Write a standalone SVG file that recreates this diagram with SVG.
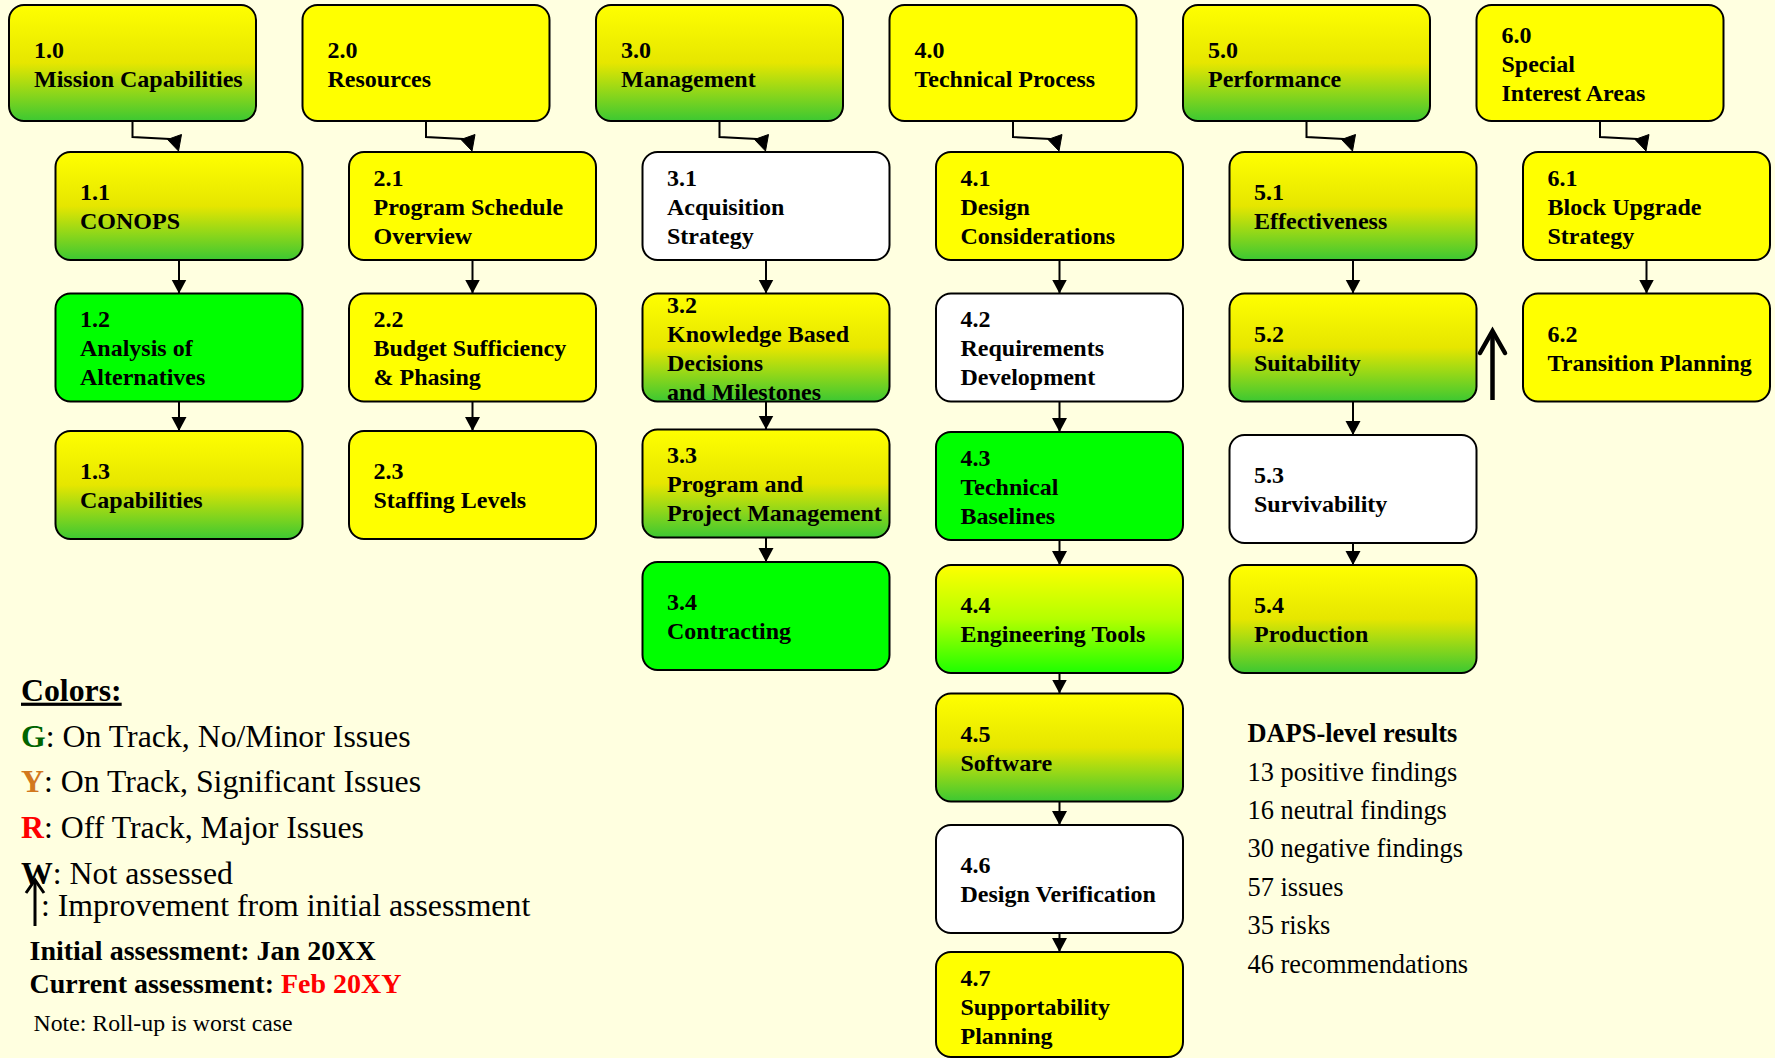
<svg xmlns="http://www.w3.org/2000/svg" width="1775" height="1058" viewBox="0 0 1775 1058">
  <style>
    .bx { stroke: #000; stroke-width: 2; }
    .y { fill: #FFFF00; }
    .g { fill: #00FF00; }
    .w { fill: #FFFFFF; }
    .yg { fill: url(#gradYG); }
    .yl { fill: url(#gradYL); }
    .lbl { font-family: "Liberation Serif", "Times New Roman", serif; font-weight: bold; font-size: 24px; fill: #000; }
    .edge { fill: none; stroke: #000; stroke-width: 2; }
    .head { fill: #000; stroke: #000; stroke-width: 1; stroke-linejoin: miter; }
    .leg { font-family: "Liberation Serif", "Times New Roman", serif; font-size: 31.8px; fill: #000; }
    .legb { font-family: "Liberation Serif", "Times New Roman", serif; font-size: 28px; font-weight: bold; fill: #000; }
    .note { font-family: "Liberation Serif", "Times New Roman", serif; font-size: 23.8px; fill: #000; }
    .res { font-family: "Liberation Serif", "Times New Roman", serif; font-size: 26.4px; fill: #000; }
    .up { fill: none; stroke: #000; stroke-linejoin: miter; }
  </style>
  <defs>
    <!-- yellow fading to green: mixed status -->
    <linearGradient id="gradYG" x1="0" y1="0" x2="0" y2="1">
      <stop offset="0" stop-color="#FFFF00"/>
      <stop offset="0.5" stop-color="#E6E600"/>
      <stop offset="1" stop-color="#3CC832"/>
    </linearGradient>
    <!-- yellow fading to bright green -->
    <linearGradient id="gradYL" x1="0" y1="0" x2="0" y2="1">
      <stop offset="0" stop-color="#FFFF00"/>
      <stop offset="0.5" stop-color="#B4FF00"/>
      <stop offset="1" stop-color="#1EFF00"/>
    </linearGradient>
    <marker id="arr" markerUnits="userSpaceOnUse" markerWidth="16" markerHeight="16" refX="14" refY="7.5" orient="auto">
      <path d="M0,0 L14,7.5 L0,15 z" fill="#000"/>
    </marker>
  </defs>

  <rect width="1775" height="1058" fill="#FFFFE0"/>

  <!-- connectors -->
  <g id="connectors">
    <!-- parent to first child elbows -->
    <path class="edge" d="M132.5,121 V137 L170,139"/>
    <polygon class="head" points="167.5,139.5 181.5,134.5 178.5,151"/>
    <path class="edge" d="M426,121 V137 L463.5,139"/>
    <polygon class="head" points="461,139.5 475,134.5 472,151"/>
    <path class="edge" d="M719.5,121 V137 L757,139"/>
    <polygon class="head" points="754.5,139.5 768.5,134.5 765.5,151"/>
    <path class="edge" d="M1013,121 V137 L1050.5,139"/>
    <polygon class="head" points="1048,139.5 1062,134.5 1059,151"/>
    <path class="edge" d="M1306.5,121 V137 L1344,139"/>
    <polygon class="head" points="1341.5,139.5 1355.5,134.5 1352.5,151"/>
    <path class="edge" d="M1600,121 V137 L1637.5,139"/>
    <polygon class="head" points="1635,139.5 1649,134.5 1646,151"/>

    <!-- column chains -->
    <line class="edge" x1="179" y1="260" x2="179" y2="293.5" marker-end="url(#arr)"/>
    <line class="edge" x1="179" y1="401.5" x2="179" y2="431" marker-end="url(#arr)"/>
    <line class="edge" x1="472.5" y1="260" x2="472.5" y2="293.5" marker-end="url(#arr)"/>
    <line class="edge" x1="472.5" y1="401.5" x2="472.5" y2="431" marker-end="url(#arr)"/>
    <line class="edge" x1="766" y1="260" x2="766" y2="293.5" marker-end="url(#arr)"/>
    <line class="edge" x1="766" y1="401.5" x2="766" y2="429.5" marker-end="url(#arr)"/>
    <line class="edge" x1="766" y1="537.5" x2="766" y2="562" marker-end="url(#arr)"/>
    <line class="edge" x1="1059.5" y1="260" x2="1059.5" y2="293.5" marker-end="url(#arr)"/>
    <line class="edge" x1="1059.5" y1="401.5" x2="1059.5" y2="432" marker-end="url(#arr)"/>
    <line class="edge" x1="1059.5" y1="540" x2="1059.5" y2="565" marker-end="url(#arr)"/>
    <line class="edge" x1="1059.5" y1="673" x2="1059.5" y2="693.5" marker-end="url(#arr)"/>
    <line class="edge" x1="1059.5" y1="801.5" x2="1059.5" y2="825" marker-end="url(#arr)"/>
    <line class="edge" x1="1059.5" y1="933" x2="1059.5" y2="952" marker-end="url(#arr)"/>
    <line class="edge" x1="1353" y1="260" x2="1353" y2="293.5" marker-end="url(#arr)"/>
    <line class="edge" x1="1353" y1="401.5" x2="1353" y2="435" marker-end="url(#arr)"/>
    <line class="edge" x1="1353" y1="543" x2="1353" y2="565" marker-end="url(#arr)"/>
    <line class="edge" x1="1646.5" y1="260" x2="1646.5" y2="293.5" marker-end="url(#arr)"/>
  </g>

  <!-- top level areas -->
  <g id="n1_0"><rect class="bx yg" x="9" y="5" width="247" height="116" rx="15"/>
    <text class="lbl" x="34"><tspan x="34" y="57.7">1.0</tspan><tspan x="34" y="86.7">Mission Capabilities</tspan></text></g>
  <g id="n2_0"><rect class="bx y" x="302.5" y="5" width="247" height="116" rx="15"/>
    <text class="lbl"><tspan x="327.5" y="57.7">2.0</tspan><tspan x="327.5" y="86.7">Resources</tspan></text></g>
  <g id="n3_0"><rect class="bx yg" x="596" y="5" width="247" height="116" rx="15"/>
    <text class="lbl"><tspan x="621" y="57.7">3.0</tspan><tspan x="621" y="86.7">Management</tspan></text></g>
  <g id="n4_0"><rect class="bx y" x="889.5" y="5" width="247" height="116" rx="15"/>
    <text class="lbl"><tspan x="914.5" y="57.7">4.0</tspan><tspan x="914.5" y="86.7">Technical Process</tspan></text></g>
  <g id="n5_0"><rect class="bx yg" x="1183" y="5" width="247" height="116" rx="15"/>
    <text class="lbl"><tspan x="1208" y="57.7">5.0</tspan><tspan x="1208" y="86.7">Performance</tspan></text></g>
  <g id="n6_0"><rect class="bx y" x="1476.5" y="5" width="247" height="116" rx="15"/>
    <text class="lbl"><tspan x="1501.5" y="43.2">6.0</tspan><tspan x="1501.5" y="72.2">Special</tspan><tspan x="1501.5" y="101.2">Interest Areas</tspan></text></g>

  <!-- column 1 -->
  <g id="n1_1"><rect class="bx yg" x="55.5" y="152" width="247" height="108" rx="15"/>
    <text class="lbl"><tspan x="80" y="200.2">1.1</tspan><tspan x="80" y="229.2">CONOPS</tspan></text></g>
  <g id="n1_2"><rect class="bx g" x="55.5" y="293.5" width="247" height="108" rx="15"/>
    <text class="lbl"><tspan x="80" y="327.2">1.2</tspan><tspan x="80" y="356.2">Analysis of</tspan><tspan x="80" y="385.2">Alternatives</tspan></text></g>
  <g id="n1_3"><rect class="bx yg" x="55.5" y="431" width="247" height="108" rx="15"/>
    <text class="lbl"><tspan x="80" y="479.2">1.3</tspan><tspan x="80" y="508.2">Capabilities</tspan></text></g>

  <!-- column 2 -->
  <g id="n2_1"><rect class="bx y" x="349" y="152" width="247" height="108" rx="15"/>
    <text class="lbl"><tspan x="373.5" y="185.7">2.1</tspan><tspan x="373.5" y="214.7">Program Schedule</tspan><tspan x="373.5" y="243.7">Overview</tspan></text></g>
  <g id="n2_2"><rect class="bx y" x="349" y="293.5" width="247" height="108" rx="15"/>
    <text class="lbl"><tspan x="373.5" y="327.2">2.2</tspan><tspan x="373.5" y="356.2">Budget Sufficiency</tspan><tspan x="373.5" y="385.2">&amp; Phasing</tspan></text></g>
  <g id="n2_3"><rect class="bx y" x="349" y="431" width="247" height="108" rx="15"/>
    <text class="lbl"><tspan x="373.5" y="479.2">2.3</tspan><tspan x="373.5" y="508.2">Staffing Levels</tspan></text></g>

  <!-- column 3 -->
  <g id="n3_1"><rect class="bx w" x="642.5" y="152" width="247" height="108" rx="15"/>
    <text class="lbl"><tspan x="667" y="185.7">3.1</tspan><tspan x="667" y="214.7">Acquisition</tspan><tspan x="667" y="243.7">Strategy</tspan></text></g>
  <g id="n3_2"><rect class="bx yg" x="642.5" y="293.5" width="247" height="108" rx="15"/>
    <text class="lbl"><tspan x="667" y="312.7">3.2</tspan><tspan x="667" y="341.7">Knowledge Based</tspan><tspan x="667" y="370.7">Decisions</tspan><tspan x="667" y="399.7">and Milestones</tspan></text></g>
  <g id="n3_3"><rect class="bx yg" x="642.5" y="429.5" width="247" height="108" rx="15"/>
    <text class="lbl"><tspan x="667" y="463.2">3.3</tspan><tspan x="667" y="492.2">Program and</tspan><tspan x="667" y="521.2">Project Management</tspan></text></g>
  <g id="n3_4"><rect class="bx g" x="642.5" y="562" width="247" height="108" rx="15"/>
    <text class="lbl"><tspan x="667" y="610.2">3.4</tspan><tspan x="667" y="639.2">Contracting</tspan></text></g>

  <!-- column 4 -->
  <g id="n4_1"><rect class="bx y" x="936" y="152" width="247" height="108" rx="15"/>
    <text class="lbl"><tspan x="960.5" y="185.7">4.1</tspan><tspan x="960.5" y="214.7">Design</tspan><tspan x="960.5" y="243.7">Considerations</tspan></text></g>
  <g id="n4_2"><rect class="bx w" x="936" y="293.5" width="247" height="108" rx="15"/>
    <text class="lbl"><tspan x="960.5" y="327.2">4.2</tspan><tspan x="960.5" y="356.2">Requirements</tspan><tspan x="960.5" y="385.2">Development</tspan></text></g>
  <g id="n4_3"><rect class="bx g" x="936" y="432" width="247" height="108" rx="15"/>
    <text class="lbl"><tspan x="960.5" y="465.7">4.3</tspan><tspan x="960.5" y="494.7">Technical</tspan><tspan x="960.5" y="523.7">Baselines</tspan></text></g>
  <g id="n4_4"><rect class="bx yl" x="936" y="565" width="247" height="108" rx="15"/>
    <text class="lbl"><tspan x="960.5" y="613.2">4.4</tspan><tspan x="960.5" y="642.2">Engineering Tools</tspan></text></g>
  <g id="n4_5"><rect class="bx yg" x="936" y="693.5" width="247" height="108" rx="15"/>
    <text class="lbl"><tspan x="960.5" y="741.7">4.5</tspan><tspan x="960.5" y="770.7">Software</tspan></text></g>
  <g id="n4_6"><rect class="bx w" x="936" y="825" width="247" height="108" rx="15"/>
    <text class="lbl"><tspan x="960.5" y="873.2">4.6</tspan><tspan x="960.5" y="902.2">Design Verification</tspan></text></g>
  <g id="n4_7"><rect class="bx y" x="936" y="952" width="247" height="105" rx="15"/>
    <text class="lbl"><tspan x="960.5" y="985.5">4.7</tspan><tspan x="960.5" y="1014.5">Supportability</tspan><tspan x="960.5" y="1043.5">Planning</tspan></text></g>

  <!-- column 5 -->
  <g id="n5_1"><rect class="bx yg" x="1229.5" y="152" width="247" height="108" rx="15"/>
    <text class="lbl"><tspan x="1254" y="200.2">5.1</tspan><tspan x="1254" y="229.2">Effectiveness</tspan></text></g>
  <g id="n5_2"><rect class="bx yg" x="1229.5" y="293.5" width="247" height="108" rx="15"/>
    <text class="lbl"><tspan x="1254" y="341.7">5.2</tspan><tspan x="1254" y="370.7">Suitability</tspan></text></g>
  <g id="n5_3"><rect class="bx w" x="1229.5" y="435" width="247" height="108" rx="15"/>
    <text class="lbl"><tspan x="1254" y="483.2">5.3</tspan><tspan x="1254" y="512.2">Survivability</tspan></text></g>
  <g id="n5_4"><rect class="bx yg" x="1229.5" y="565" width="247" height="108" rx="15"/>
    <text class="lbl"><tspan x="1254" y="613.2">5.4</tspan><tspan x="1254" y="642.2">Production</tspan></text></g>

  <!-- column 6 -->
  <g id="n6_1"><rect class="bx y" x="1523" y="152" width="247" height="108" rx="15"/>
    <text class="lbl"><tspan x="1547.5" y="185.7">6.1</tspan><tspan x="1547.5" y="214.7">Block Upgrade</tspan><tspan x="1547.5" y="243.7">Strategy</tspan></text></g>
  <g id="n6_2"><rect class="bx y" x="1523" y="293.5" width="247" height="108" rx="15"/>
    <text class="lbl"><tspan x="1547.5" y="341.7">6.2</tspan><tspan x="1547.5" y="370.7">Transition Planning</tspan></text></g>

  <!-- improvement marker beside 5.2 -->
  <g id="improve_5_2">
    <line class="up" x1="1492.5" y1="400" x2="1492.5" y2="333" stroke-width="4.5"/>
    <polyline class="up" points="1480,353 1492.5,331 1505,353" stroke-width="4.5" stroke-linecap="round"/>
  </g>

  <!-- legend -->
  <g id="legend">
    <text class="leg" x="21" y="700.7" font-weight="bold" text-decoration="underline">Colors:</text>
    <text class="leg" x="21" y="746.7"><tspan fill="#006400" font-weight="bold">G</tspan>: On Track, No/Minor Issues</text>
    <text class="leg" x="21" y="792.3"><tspan fill="#D2781E" font-weight="bold">Y</tspan>: On Track, Significant Issues</text>
    <text class="leg" x="21" y="838.3"><tspan fill="#FF0000" font-weight="bold">R</tspan>: Off Track, Major Issues</text>
    <text class="leg" x="21" y="884"><tspan font-weight="bold">W</tspan>: Not assessed</text>
    <text class="leg" x="41" y="916">: Improvement from initial assessment</text>
    <line class="up" x1="35" y1="926" x2="35" y2="882" stroke-width="3"/>
    <polyline class="up" points="26,893 35,880 44,893" stroke-width="3"/>
    <text class="legb" x="29.5" y="960">Initial assessment: Jan 20XX</text>
    <text class="legb" x="29.5" y="993.3">Current assessment: <tspan fill="#FF0000">Feb 20XY</tspan></text>
    <text class="note" x="33.5" y="1030.7">Note: Roll-up is worst case</text>
  </g>

  <!-- summary counts -->
  <g id="results">
    <text class="res" x="1247.5" y="741.7" font-weight="bold">DAPS-level results</text>
    <text class="res" x="1247.5" y="780.7">13 positive findings</text>
    <text class="res" x="1247.5" y="819">16 neutral findings</text>
    <text class="res" x="1247.5" y="857.3">30 negative findings</text>
    <text class="res" x="1247.5" y="896">57 issues</text>
    <text class="res" x="1247.5" y="934">35 risks</text>
    <text class="res" x="1247.5" y="973.3">46 recommendations</text>
  </g>
</svg>
